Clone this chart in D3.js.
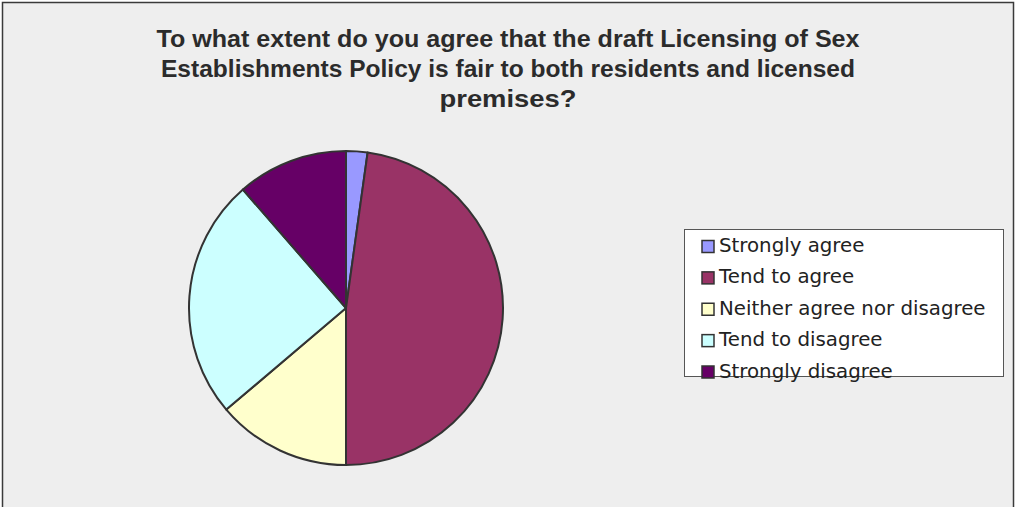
<!DOCTYPE html>
<meta charset="utf-8">
<head>
    <title>Pie chart</title>
    <style>
        body { margin: 0; background: #fff; }
        svg { display: block; }
        .title { font-family: "Liberation Sans", Arial, sans-serif; font-weight: bold; fill: #2b2b2b; text-anchor: middle; }
        .legend text { font-family: "DejaVu Sans", Verdana, sans-serif; fill: #222; }
    </style>
</head>
<script src="https://d3js.org/d3.v7.min.js"></script>
<svg id="chart" width="1016" height="507"></svg>
<script>
    // data
    const categories = ["Strongly agree", "Tend to agree", "Neither agree nor disagree", "Tend to disagree", "Strongly disagree"];
    const values = [2.2, 47.8, 13.8, 24.8, 11.4];
    const colors = ["#9999ff", "#993366", "#ffffcc", "#ccffff", "#660066"];
    const titleLines = [
        "To what extent do you agree that the draft Licensing of Sex",
        "Establishments Policy is fair to both residents and licensed",
        "premises?"
    ];

    const svg = d3.select("#chart"),
        width = +svg.attr("width"),
        height = +svg.attr("height");

    // chart area background + frame
    svg.append("rect")
        .attr("x", 2.5).attr("y", 2.5)
        .attr("width", width - 5).attr("height", height + 20)
        .attr("fill", "#eeeeee")
        .attr("stroke", "#3a3a3a")
        .attr("stroke-width", 1.5);

    // title
    const titleWidths = [703, 694, 137];
    svg.append("g").selectAll("text")
        .data(titleLines)
        .join("text")
        .attr("class", "title")
        .attr("x", 508)
        .attr("y", (d, i) => 47 + i * 30)
        .style("font-size", "24px")
        .attr("textLength", (d, i) => titleWidths[i])
        .attr("lengthAdjust", "spacingAndGlyphs")
        .text(d => d);

    // pie
    const color = d3.scaleOrdinal().domain(categories).range(colors);
    const pie = d3.pie().sort(null).value(d => d.value);
    const arc = d3.arc().innerRadius(0).outerRadius(157);
    const data = categories.map((c, i) => ({ name: c, value: values[i] }));

    svg.append("g")
        .attr("transform", "translate(346,308)")
        .selectAll("path")
        .data(pie(data))
        .join("path")
        .attr("d", arc)
        .attr("fill", d => color(d.data.name))
        .attr("stroke", "#333")
        .attr("stroke-width", 2)
        .attr("stroke-linejoin", "round");

    // legend
    const legend = svg.append("g").attr("class", "legend");
    legend.append("rect")
        .attr("x", 684.5).attr("y", 229.5)
        .attr("width", 319).attr("height", 147)
        .attr("fill", "#fff")
        .attr("stroke", "#555")
        .attr("stroke-width", 1);

    const rowY = d3.scalePoint().domain(categories).range([246.5, 372]);

    legend.selectAll("rect.sw")
        .data(categories)
        .join("rect")
        .attr("class", "sw")
        .attr("x", 702)
        .attr("y", d => rowY(d) - 6)
        .attr("width", 12).attr("height", 12)
        .attr("fill", d => color(d))
        .attr("stroke", "#333")
        .attr("stroke-width", 1.5);

    legend.selectAll("text")
        .data(categories)
        .join("text")
        .attr("x", 719)
        .attr("y", d => rowY(d) + 5.5)
        .style("font-size", "19.8px")
        .text(d => d);
</script>
